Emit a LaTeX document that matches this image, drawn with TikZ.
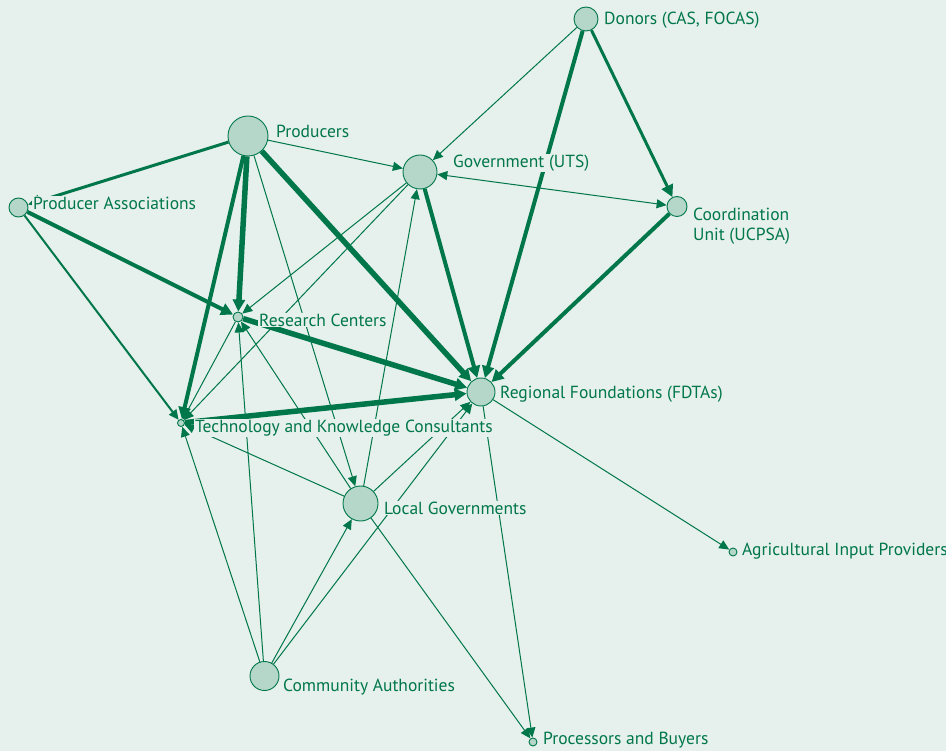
\documentclass[tikz,border=0pt]{standalone}
\usepackage{fontspec}
\setmainfont{PT Sans}
\usetikzlibrary{arrows.meta}
\definecolor{bgc}{HTML}{E6F0EC}
\definecolor{dg}{HTML}{00774A}
\definecolor{nfc}{HTML}{B5D7CA}
\pgfdeclarelayer{backl}
\pgfdeclarelayer{edgel}
\pgfsetlayers{backl,edgel,main}
\begin{document}
\begin{tikzpicture}[x=1pt,y=-1pt,
  nd/.style={circle,draw=dg,fill=nfc,line width=0.9pt,inner sep=0pt},
  lb/.style={anchor=west,text=dg,fill=bgc,inner sep=1pt,font=\fontsize{17.5}{19.5}\selectfont},
  w1/.style={draw=dg,line width=1pt},
  w2/.style={draw=dg,line width=2pt},
  w3/.style={draw=dg,line width=3pt},
  w4/.style={draw=dg,line width=4pt},
  w5/.style={draw=dg,line width=5.5pt},
  a1/.style={-{Triangle[length=10pt,width=9pt]}},
  a2/.style={-{Triangle[length=12pt,width=12pt]}},
  aa1/.style={{Triangle[length=10pt,width=9pt]}-{Triangle[length=10pt,width=9pt]}}
]
\begin{pgfonlayer}{backl}
\fill[bgc] (0,0) rectangle (946,751);
\end{pgfonlayer}
\useasboundingbox (0,0) rectangle (946,751);

% nodes
\node[nd,minimum size=24pt] (D) at (586,19) {};
\node[nd,minimum size=40pt] (P) at (248,136) {};
\node[nd,minimum size=34pt] (G) at (420,172) {};
\node[nd,minimum size=19pt] (PA) at (18.5,207.5) {};
\node[nd,minimum size=20pt] (CU) at (677,206.5) {};
\node[nd,minimum size=10pt] (RC) at (238,317) {};
\node[nd,minimum size=28pt] (F) at (481,392) {};
\node[nd,minimum size=7pt] (TK) at (181,423) {};
\node[nd,minimum size=35pt] (LG) at (360.5,503.5) {};
\node[nd,minimum size=8pt] (AI) at (733,552) {};
\node[nd,minimum size=29pt] (CA) at (264.5,676) {};
\node[nd,minimum size=8pt] (PB) at (533,742) {};

% edges
\begin{pgfonlayer}{edgel}
\draw[w1,a1] (D) -- (G);
\draw[w4,a2] (D) -- (F);
\draw[w3,a2] (D) -- (CU);
\draw[w1,aa1] (G) -- (CU);
\draw[w4,a2] (CU) -- (F);
\draw[w1,a1] (P) -- (G);
\draw[w3,a2] (P) -- (PA);
\draw[w4,a2] (PA) -- (RC);
\draw[w2,a1] (PA) -- (TK);
\draw[w5,a2] (P) -- (RC);
\draw[w4,a2] (P) -- (TK);
\draw[w5,a2] (P) -- (F);
\draw[w1,a1] (P) -- (LG);
\draw[w4,a2] (G) -- (F);
\draw[w1,a1] (G) -- (RC);
\draw[w1,a1] (G) -- (TK);
\draw[w1,a1] (LG) -- (G);
\draw[w5,a2] (RC) -- (F);
\draw[w5,a2] (TK) -- (F);
\draw[w1,a1] (LG) -- (RC);
\draw[w1,a1] (CA) -- (RC);
\draw[w1,a1] (RC) -- (TK);
\draw[w1,a1] (LG) -- (TK);
\draw[w1,a1] (CA) -- (TK);
\draw[w1,a1] (CA) -- (LG);
\draw[w1,a1] (CA) -- (F);
\draw[w1,a1] (LG) -- (F);
\draw[w1,a1] (F) -- (AI);
\draw[w1,a1] (F) -- (PB);
\draw[w1,a1] (LG) -- (PB);
\end{pgfonlayer}

% labels
\node[lb] (lD) at (603,20) {Donors (CAS, FOCAS)};
\node[lb] (lP) at (275,131) {Producers};
\node[lb] (lG) at (452,163) {Government (UTS)};
\node[lb] (lPA) at (32,203) {Producer Associations};
\node[lb,align=left] (lCU) at (692,226) {Coordination\\Unit (UCPSA)};
\node[lb] (lRC) at (258,320) {Research Centers};
\node[lb] (lF) at (499,394) {Regional Foundations (FDTAs)};
\node[lb] (lTK) at (194,428) {Technology and Knowledge Consultants};
\node[lb] (lLG) at (383,508) {Local Governments};
\node[lb] (lAI) at (741,551) {Agricultural Input Providers};
\node[lb] (lCA) at (282,687) {Community Authorities};
\node[lb] (lPB) at (542,740) {Processors and Buyers};
\end{tikzpicture}
\end{document}
